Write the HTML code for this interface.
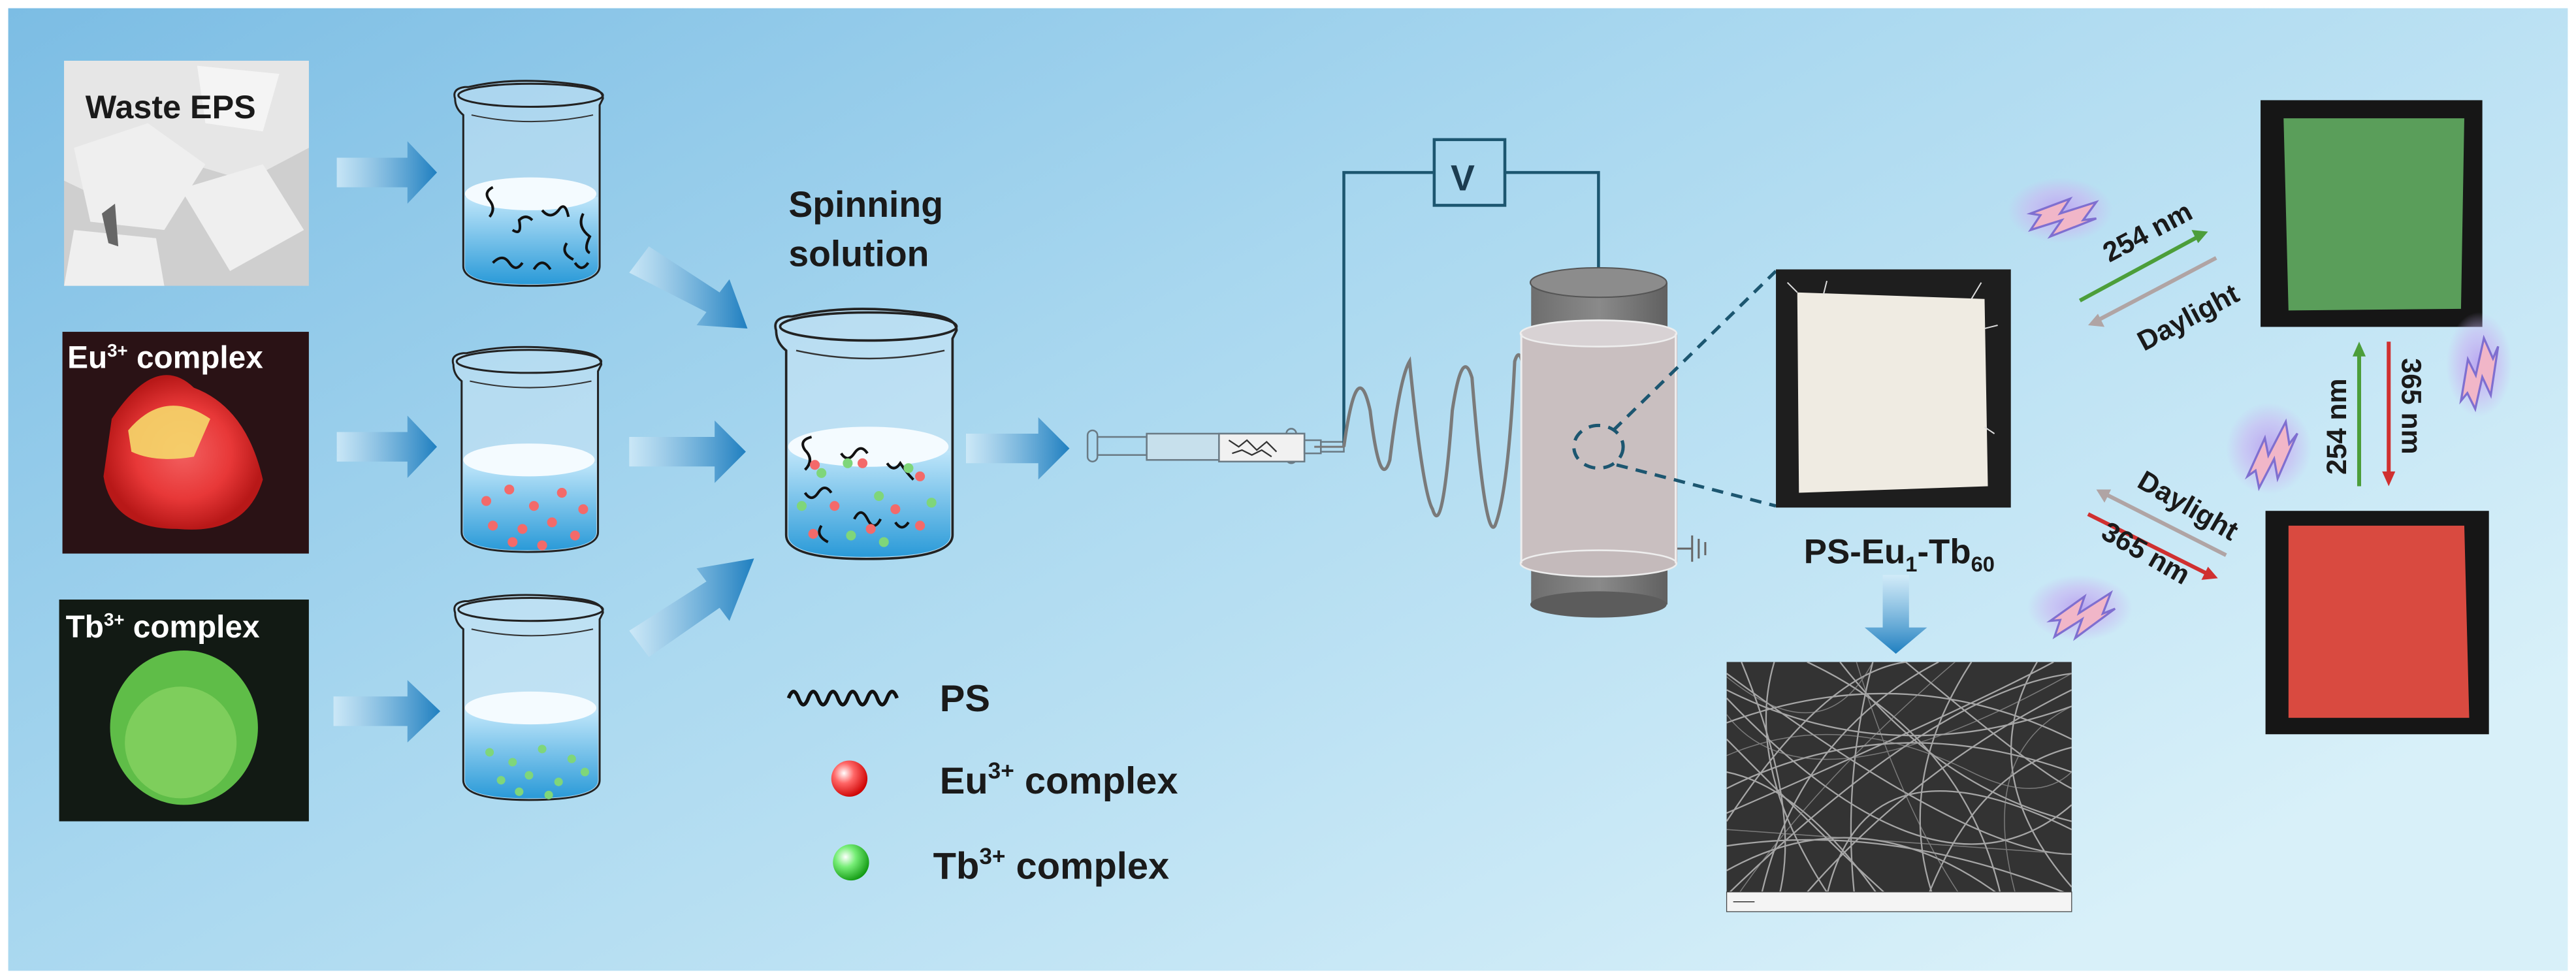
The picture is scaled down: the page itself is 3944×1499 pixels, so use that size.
<!DOCTYPE html>
<html><head><meta charset="utf-8"><style>
html,body{margin:0;padding:0;background:#fff;}
svg{display:block}
text{font-family:"Liberation Sans",Arial,sans-serif;font-weight:bold;fill:#1a1a1a}
</style></head><body>
<svg width="3944" height="1499" viewBox="0 0 1568 596" preserveAspectRatio="none" xmlns="http://www.w3.org/2000/svg">
<defs>
<linearGradient id="bg" x1="0" y1="0" x2="1" y2="0.7">
<stop offset="0" stop-color="#7cbde4"/><stop offset="0.45" stop-color="#a8d7ef"/><stop offset="1" stop-color="#d8f0f9"/>
</linearGradient>
<linearGradient id="arr" x1="0" y1="0" x2="1" y2="0">
<stop offset="0" stop-color="#d4ecf9" stop-opacity="0.8"/><stop offset="1" stop-color="#1f7fc0"/>
</linearGradient>
<linearGradient id="arrd" x1="0" y1="0" x2="0" y2="1">
<stop offset="0" stop-color="#d4ecf9" stop-opacity="0.8"/><stop offset="1" stop-color="#1f7fc0"/>
</linearGradient>
<linearGradient id="liq" x1="0" y1="0" x2="0" y2="1">
<stop offset="0" stop-color="#bfe6fa"/><stop offset="1" stop-color="#2a9ad8"/>
</linearGradient>
<radialGradient id="red" cx="0.35" cy="0.35" r="0.7"><stop offset="0" stop-color="#fff"/><stop offset="0.4" stop-color="#f66"/><stop offset="1" stop-color="#c00"/></radialGradient>
<radialGradient id="grn" cx="0.35" cy="0.35" r="0.7"><stop offset="0" stop-color="#fff"/><stop offset="0.4" stop-color="#7e7"/><stop offset="1" stop-color="#191"/></radialGradient>
<radialGradient id="eu" cx="0.5" cy="0.5" r="0.5"><stop offset="0" stop-color="#f26060"/><stop offset="0.6" stop-color="#e83838"/><stop offset="1" stop-color="#b81818"/></radialGradient>
<radialGradient id="bolt" cx="0.5" cy="0.5" r="0.5"><stop offset="0" stop-color="#b9a6f0"/><stop offset="0.6" stop-color="#c9b7f3" stop-opacity="0.6"/><stop offset="1" stop-color="#c9b7f3" stop-opacity="0"/></radialGradient>
<linearGradient id="cyl" x1="0" y1="0" x2="1" y2="0"><stop offset="0" stop-color="#6e6e6e"/><stop offset="0.5" stop-color="#8a8a8a"/><stop offset="1" stop-color="#606060"/></linearGradient>
<g id="beaker">
<path d="M2,10 Q0,4 8,3 L10,3 Q40,-4 80,2 Q92,4 92,10 L90,14 L90,112 Q90,124 47,124 Q7,124 7,112 L7,20 Q2,16 2,10 Z" fill="#e8f4fb" fill-opacity="0.35" stroke="#222" stroke-width="1.2"/>
<ellipse cx="48" cy="8" rx="44" ry="7" fill="none" stroke="#222" stroke-width="1.2"/>
<path d="M12,20 Q48,28 86,20" fill="none" stroke="#333" stroke-width="0.8"/>
<path d="M8,70 L8,112 Q8,123 47,123 Q89,123 89,112 L89,70 Z" fill="url(#liq)"/>
<ellipse cx="48" cy="68" rx="40" ry="10" fill="#f4fbff"/>
</g>
<g id="bt"><path d="M0,0 L24,-9 L18,0 L40,-7 L32,4 L40,3 L12,14 L19,4 L0,10 L6,1 Z" fill="#f1b6c8" stroke="#7f6fd0" stroke-width="1.3"/></g>
</defs>
<rect x="0" y="0" width="1568" height="596" fill="#fff"/>
<rect x="5" y="5" width="1558" height="586" fill="url(#bg)"/>

<!-- photos left -->
<rect x="39" y="37" width="149" height="137" fill="#cfcfcf"/>
<path d="M39,37 L188,37 L188,90 L150,110 L100,95 L60,120 L39,110Z" fill="#e6e6e6"/>
<path d="M45,90 L90,75 L125,100 L100,140 L55,135 Z M110,115 L160,100 L185,140 L140,165 Z M45,140 L95,145 L100,174 L39,174Z" fill="#efefef"/>
<path d="M120,40 L170,45 L160,80 L125,75Z" fill="#f4f4f4"/>
<path d="M62,130 L70,124 L72,150 L66,148Z" fill="#666"/>
<text x="52" y="72" font-size="20">Waste EPS</text>
<rect x="38" y="202" width="150" height="135" fill="#2a1215"/>
<path d="M68,255 Q95,214 118,236 Q150,248 160,292 Q150,326 108,322 Q68,322 63,290 Z" fill="url(#eu)"/>
<path d="M78,262 Q100,236 128,255 L118,278 Q95,282 80,275 Z" fill="#f5d86a" opacity="0.9"/>
<text x="41" y="224" font-size="19" style="fill:#fff">Eu<tspan font-size="11" dy="-7">3+</tspan><tspan dy="7"> complex</tspan></text>
<rect x="36" y="365" width="152" height="135" fill="#121a14"/>
<ellipse cx="112" cy="443" rx="45" ry="47" fill="#5fbd48"/>
<ellipse cx="110" cy="452" rx="34" ry="34" fill="#9ee070" opacity="0.5"/>
<text x="40" y="388" font-size="19" style="fill:#fff">Tb<tspan font-size="11" dy="-7">3+</tspan><tspan dy="7"> complex</tspan></text>

<!-- arrows -->
<g fill="url(#arr)">
<path d="M205,96 L248,96 L248,86 L266,105 L248,124 L248,114 L205,114Z"/>
<path d="M205,263 L248,263 L248,253 L266,272 L248,291 L248,281 L205,281Z"/>
<path d="M203,424 L248,424 L248,414 L268,433 L248,452 L248,442 L203,442Z"/>
<path d="M383,266 L435,266 L435,256 L454,275 L435,294 L435,284 L383,284Z"/>
<path d="M588,264 L632,264 L632,254 L651,273 L632,292 L632,282 L588,282Z"/>
<path d="M383,166 L395,150 L438,178 L444,170 L455,200 L424,198 L430,190 Z"/>
<path d="M383,384 L395,400 L438,370 L444,378 L459,340 L424,346 L430,354 Z"/>
</g>

<!-- beakers -->
<use href="#beaker" transform="translate(275,50)"/>
<use href="#beaker" transform="translate(274,212)"/>
<use href="#beaker" transform="translate(275,363)"/>
<use href="#beaker" transform="translate(470,189) scale(1.22,1.22)"/>
<g fill="none" stroke="#111" stroke-width="1.6">
<path d="M298,132 q4,-5 0,-10 q-4,-5 2,-8 M312,140 q6,4 4,-6 q4,-4 8,0 M330,128 q5,6 10,0 q4,-6 6,4 M345,148 q-4,6 4,10 M300,160 q6,-6 10,0 q4,6 8,0 M325,164 q5,-8 10,0 M350,160 q4,6 8,0 M355,130 q-4,8 4,14 q-4,8 0,10"/>
<path d="M490,286 q6,-6 0,-12 q-4,-6 4,-8 M490,300 q4,6 8,0 q4,-6 8,0 M512,276 q4,6 8,0 q4,-6 8,0 M520,316 q4,-8 8,0 q4,8 8,0 M540,282 q4,6 8,0 q4,6 8,10 M500,320 q-4,6 4,10 M545,318 q4,6 8,0"/>
</g>
<g fill="#f36a6a">
<circle cx="296" cy="305" r="3"/><circle cx="310" cy="298" r="3"/><circle cx="325" cy="308" r="3"/><circle cx="342" cy="300" r="3"/><circle cx="355" cy="310" r="3"/><circle cx="300" cy="320" r="3"/><circle cx="318" cy="322" r="3"/><circle cx="336" cy="318" r="3"/><circle cx="350" cy="326" r="3"/><circle cx="312" cy="330" r="3"/><circle cx="330" cy="332" r="3"/>
<circle cx="496" cy="283" r="3"/><circle cx="525" cy="282" r="3"/><circle cx="560" cy="290" r="3"/><circle cx="508" cy="308" r="3"/><circle cx="545" cy="310" r="3"/><circle cx="495" cy="325" r="3"/><circle cx="530" cy="322" r="3"/><circle cx="560" cy="320" r="3"/>
</g>
<g fill="#7fd67a">
<circle cx="298" cy="458" r="2.6"/><circle cx="312" cy="464" r="2.6"/><circle cx="330" cy="456" r="2.6"/><circle cx="348" cy="462" r="2.6"/><circle cx="305" cy="475" r="2.6"/><circle cx="322" cy="472" r="2.6"/><circle cx="340" cy="476" r="2.6"/><circle cx="356" cy="470" r="2.6"/><circle cx="316" cy="482" r="2.6"/><circle cx="334" cy="484" r="2.6"/>
<circle cx="500" cy="288" r="3"/><circle cx="516" cy="282" r="3"/><circle cx="553" cy="285" r="3"/><circle cx="488" cy="308" r="3"/><circle cx="535" cy="302" r="3"/><circle cx="567" cy="306" r="3"/><circle cx="518" cy="326" r="3"/><circle cx="538" cy="330" r="3"/>
</g>
<text x="480" y="132" font-size="22">Spinning</text>
<text x="480" y="162" font-size="22">solution</text>

<!-- legend -->
<path d="M480,425 q3,-8 6,0 q3,8 6,0 q3,-8 6,0 q3,8 6,0 q3,-8 6,0 q3,8 6,0 q3,-8 6,0 q3,8 6,0 q3,-8 6,0 q3,8 6,0 q3,-8 6,0" fill="none" stroke="#111" stroke-width="2.2"/>
<text x="572" y="433" font-size="23">PS</text>
<circle cx="517" cy="474" r="11" fill="url(#red)"/>
<text x="572" y="483" font-size="23">Eu<tspan font-size="14" dy="-9">3+</tspan><tspan dy="9"> complex</tspan></text>
<circle cx="518" cy="525" r="11" fill="url(#grn)"/>
<text x="568" y="535" font-size="23">Tb<tspan font-size="14" dy="-9">3+</tspan><tspan dy="9"> complex</tspan></text>

<!-- syringe -->
<g stroke="#6a7a84" stroke-width="1" fill="none">
<rect x="662" y="262" width="6" height="19" rx="3"/>
<rect x="668" y="266" width="30" height="11"/>
<rect x="698" y="264" width="96" height="16" fill="#c7e0ec"/>
<rect x="783" y="261" width="6" height="21" rx="3"/>
<rect x="742" y="264" width="52" height="17" fill="#f1f1f1"/>
<rect x="794" y="268" width="10" height="8"/>
<rect x="804" y="269" width="14" height="6"/>
</g>
<path d="M748,268 l6,4 l5,-4 l6,6 l6,-5 l6,6 M750,276 l6,-2 l6,3 l6,-3 l6,4" stroke="#333" stroke-width="0.9" fill="none"/>

<!-- circuit -->
<g stroke="#1c5670" stroke-width="1.8" fill="none">
<path d="M818,272 L818,105 L873,105"/>
<path d="M916,105 L973,105 L973,164"/>
<rect x="873" y="85" width="43" height="40" fill="none"/>
</g>
<text x="883" y="116" font-size="22" style="fill:#1c3c50">V</text>
<line x1="800" y1="272" x2="818" y2="272" stroke="#777" stroke-width="1.2"/>
<path d="M818,272 Q826,214 834,250 Q840,300 846,280 Q852,230 858,220 Q866,300 872,310 Q878,330 884,250 Q890,210 896,230 Q904,330 910,320 Q918,300 922,220 Q928,200 932,280" fill="none" stroke="#7a7a7a" stroke-width="2"/>
<!-- cylinder -->
<rect x="932" y="172" width="83" height="196" fill="url(#cyl)"/>
<ellipse cx="973" cy="172" rx="41.5" ry="9" fill="#8c8c8c" stroke="#555" stroke-width="0.8"/>
<ellipse cx="973" cy="368" rx="41.5" ry="8" fill="#5c5c5c"/>
<rect x="926" y="203" width="95" height="140" fill="#c9bfc0"/>
<ellipse cx="973" cy="203" rx="47.5" ry="8" fill="#d8d2d4" stroke="#eee" stroke-width="1"/>
<ellipse cx="973" cy="343" rx="47.5" ry="8" fill="#c4babb" stroke="#eee" stroke-width="1"/>
<line x1="926" y1="203" x2="926" y2="343" stroke="#eee" stroke-width="1.2"/>
<line x1="1020" y1="203" x2="1020" y2="343" stroke="#eee" stroke-width="1.2"/>
<path d="M1021,334 L1030,334 M1030,326 L1030,342 M1034,328 L1034,340 M1038,330 L1038,338" stroke="#666" stroke-width="1.2"/>
<g stroke="#1c5670" stroke-width="2" stroke-dasharray="7,5" fill="none">
<ellipse cx="973" cy="272" rx="15" ry="13"/>
<line x1="982" y1="262" x2="1081" y2="165"/>
<line x1="984" y1="283" x2="1081" y2="308"/>
</g>
<!-- fabric photo -->
<rect x="1081" y="164" width="143" height="145" fill="#1e1e1e"/>
<path d="M1094,178 L1208,182 L1210,296 L1095,300 Z" fill="#efebe2"/>
<path d="M1094,178 l-6,-6 M1110,179 l2,-8 M1200,182 l6,-10 M1208,200 l8,-2 M1208,260 l6,4" stroke="#ddd" stroke-width="0.8"/>
<text x="1098" y="343" font-size="21">PS-Eu<tspan font-size="13" dy="5">1</tspan><tspan dy="-5">-Tb</tspan><tspan font-size="13" dy="5">60</tspan></text>
<path d="M1146,350 L1162,350 L1162,382 L1173,382 L1154,398 L1135,382 L1146,382 Z" fill="url(#arrd)"/>
<!-- SEM -->
<rect x="1051" y="403" width="210" height="152" fill="#333"/>
<g stroke="#bbb" stroke-width="0.9" fill="none" opacity="0.85">
<path d="M1051,420 Q1150,470 1261,430 M1060,403 Q1100,500 1080,555 M1120,403 Q1180,480 1261,500 M1051,480 Q1150,430 1261,470 M1200,403 Q1150,480 1180,555 M1051,530 Q1140,480 1230,555 M1090,555 Q1160,470 1261,420 M1051,450 Q1120,520 1160,555 M1240,403 Q1200,470 1261,540 M1051,500 Q1110,410 1160,403 M1140,403 Q1120,480 1130,555 M1051,410 Q1200,520 1261,520"/>
<path d="M1051,440 Q1160,400 1261,450 M1070,555 Q1090,450 1180,403 M1051,515 Q1150,500 1261,545 M1100,403 Q1200,450 1220,555 M1051,470 Q1100,480 1150,555 M1160,403 Q1240,470 1261,480 M1051,545 Q1180,420 1261,410 M1080,403 Q1060,470 1120,555 M1051,425 Q1180,560 1261,490 M1170,555 Q1200,470 1261,455 M1051,495 Q1200,430 1250,403 M1110,555 Q1130,440 1261,505"/>
</g>
<g stroke="#999" stroke-width="0.6" fill="none" opacity="0.7">
<path d="M1051,460 Q1120,430 1200,470 Q1240,490 1261,470 M1051,505 L1261,520 M1130,403 Q1160,500 1200,555 M1051,435 Q1100,500 1261,410 M1190,403 Q1100,480 1051,555 M1230,555 Q1200,460 1261,430 M1051,412 Q1110,460 1140,403"/>
</g>
<rect x="1051" y="543" width="210" height="12" fill="#f4f4f4" stroke="#444" stroke-width="0.5"/>
<line x1="1055" y1="549" x2="1068" y2="549" stroke="#333" stroke-width="0.6"/>
<!-- colored photos -->
<rect x="1376" y="61" width="135" height="138" fill="#161616"/>
<path d="M1390,72 L1500,72 L1498,188 L1393,189 Z" fill="#5a9e5a"/>
<rect x="1379" y="311" width="136" height="136" fill="#161616"/>
<path d="M1393,320 L1500,320 L1503,437 L1393,437 Z" fill="#d94a40"/>
<!-- arrows right -->
<g stroke-width="2.4" fill="none">
<line x1="1266" y1="183" x2="1340" y2="143" stroke="#4c9e3a"/>
<line x1="1349" y1="157" x2="1275" y2="196" stroke="#b0a4a4"/>
<line x1="1436" y1="296" x2="1436" y2="214" stroke="#4c9e3a"/>
<line x1="1454" y1="208" x2="1454" y2="290" stroke="#d03030"/>
<line x1="1355" y1="338" x2="1280" y2="300" stroke="#b0a4a4"/>
<line x1="1271" y1="313" x2="1345" y2="350" stroke="#d03030"/>
</g>
<path d="M1344,141 l-10,-1 l4,8 Z" fill="#4c9e3a"/>
<path d="M1271,198 l10,1 l-4,-8 Z" fill="#b0a4a4"/>
<path d="M1436,208 l-4,9 l8,0 Z" fill="#4c9e3a"/>
<path d="M1454,296 l-4,-9 l8,0 Z" fill="#d03030"/>
<path d="M1276,298 l5,8 l4,-8 Z" fill="#b0a4a4"/>
<path d="M1350,352 l-10,1 l4,-8 Z" fill="#d03030"/>
<text transform="translate(1284,160) rotate(-28)" font-size="17">254 nm</text>
<text transform="translate(1305,214) rotate(-28)" font-size="17">Daylight</text>
<text transform="translate(1428,289) rotate(-90)" font-size="17">254 nm</text>
<text transform="translate(1462,218) rotate(90)" font-size="17">365 nm</text>
<text transform="translate(1300,296) rotate(30)" font-size="17">Daylight</text>
<text transform="translate(1278,327) rotate(30)" font-size="17">365 nm</text>
<!-- bolts -->
<ellipse cx="1254" cy="128" rx="32" ry="20" fill="url(#bolt)"/>
<use href="#bt" transform="translate(1236,130)"/>
<ellipse cx="1509" cy="222" rx="20" ry="32" fill="url(#bolt)"/>
<use href="#bt" transform="translate(1498,244) rotate(-60)"/>
<ellipse cx="1381" cy="273" rx="26" ry="28" fill="url(#bolt)"/>
<use href="#bt" transform="translate(1368,290) rotate(-45)"/>
<ellipse cx="1266" cy="370" rx="32" ry="20" fill="url(#bolt)"/>
<use href="#bt" transform="translate(1248,378) rotate(-15)"/>
</svg>
</body></html>
